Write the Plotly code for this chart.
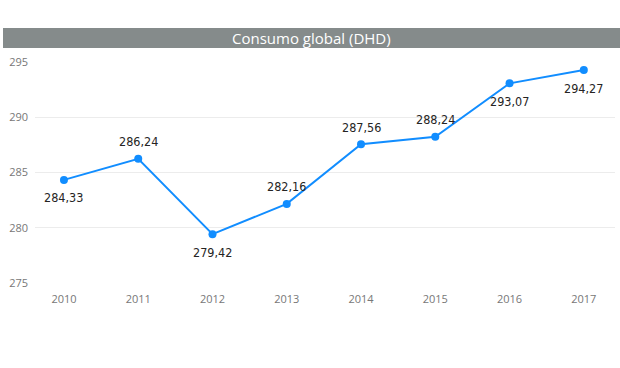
import plotly.graph_objects as go

years = [2010, 2011, 2012, 2013, 2014, 2015, 2016, 2017]
values = [284.33, 286.24, 279.42, 282.16, 287.56, 288.24, 293.07, 294.27]
label_side = [-1, 1, -1, 1, 1, 1, -1, -1]  # 1 = above point, -1 = below
labels = [f"{v:.2f}".replace(".", ",") for v in values]
y_ticks = [275, 280, 285, 290, 295]
title_text = "Consumo global (DHD)"

fig = go.Figure()
fig.add_trace(go.Scatter(
    x=years, y=values, mode="lines+markers",
    line=dict(color="#118DFF", width=2),
    marker=dict(color="#118DFF", size=8),
    cliponaxis=False, hoverinfo="skip",
))

for x, y, t, s in zip(years, values, labels, label_side):
    fig.add_annotation(x=x, y=y, text=t, showarrow=False,
                       xanchor="center", yanchor="middle", yshift=17 * s + (-1 if s < 0 else 0),
                       font=dict(family="DejaVu Sans Condensed, DejaVu Sans", size=12.5, color="#252423"))

fig.add_shape(type="rect", xref="paper", yref="paper",
              x0=(3 - 35) / 580, x1=(620 - 35) / 580,
              y0=(283 - 48) / 221, y1=(283 - 28) / 221,
              fillcolor="#858B8B", line=dict(width=0), layer="above")
fig.add_annotation(text=title_text, xref="paper", yref="paper",
                   x=(311 - 35) / 580, y=(283 - 38) / 221,
                   showarrow=False, xanchor="center", yanchor="middle",
                   font=dict(family="Open Sans, Segoe UI, sans-serif", size=15, color="white"))

fig.update_layout(
    width=620, height=368,
    margin=dict(l=35, r=5, t=62, b=85),
    paper_bgcolor="white", plot_bgcolor="white",
    showlegend=False,
    xaxis=dict(range=[2009.61, 2017.42], tickvals=years, ticktext=[str(y) for y in years],
               showgrid=False, zeroline=False, showline=False,
               tickfont=dict(family="Open Sans, Segoe UI, sans-serif", size=11, color="#777777"),
               ticks="", ticklabelstandoff=8),
    yaxis=dict(range=[275, 295], tickvals=y_ticks, showgrid=True, gridcolor="#ECECEC",
               gridwidth=1, zeroline=False, showline=False, ticks="",
               tickfont=dict(family="Open Sans, Segoe UI, sans-serif", size=11, color="#777777"),
               ticklabelstandoff=6),
)

fig.write_html("out.html", config={"displayModeBar": False},
               post_script="document.body.style.margin='0';")
